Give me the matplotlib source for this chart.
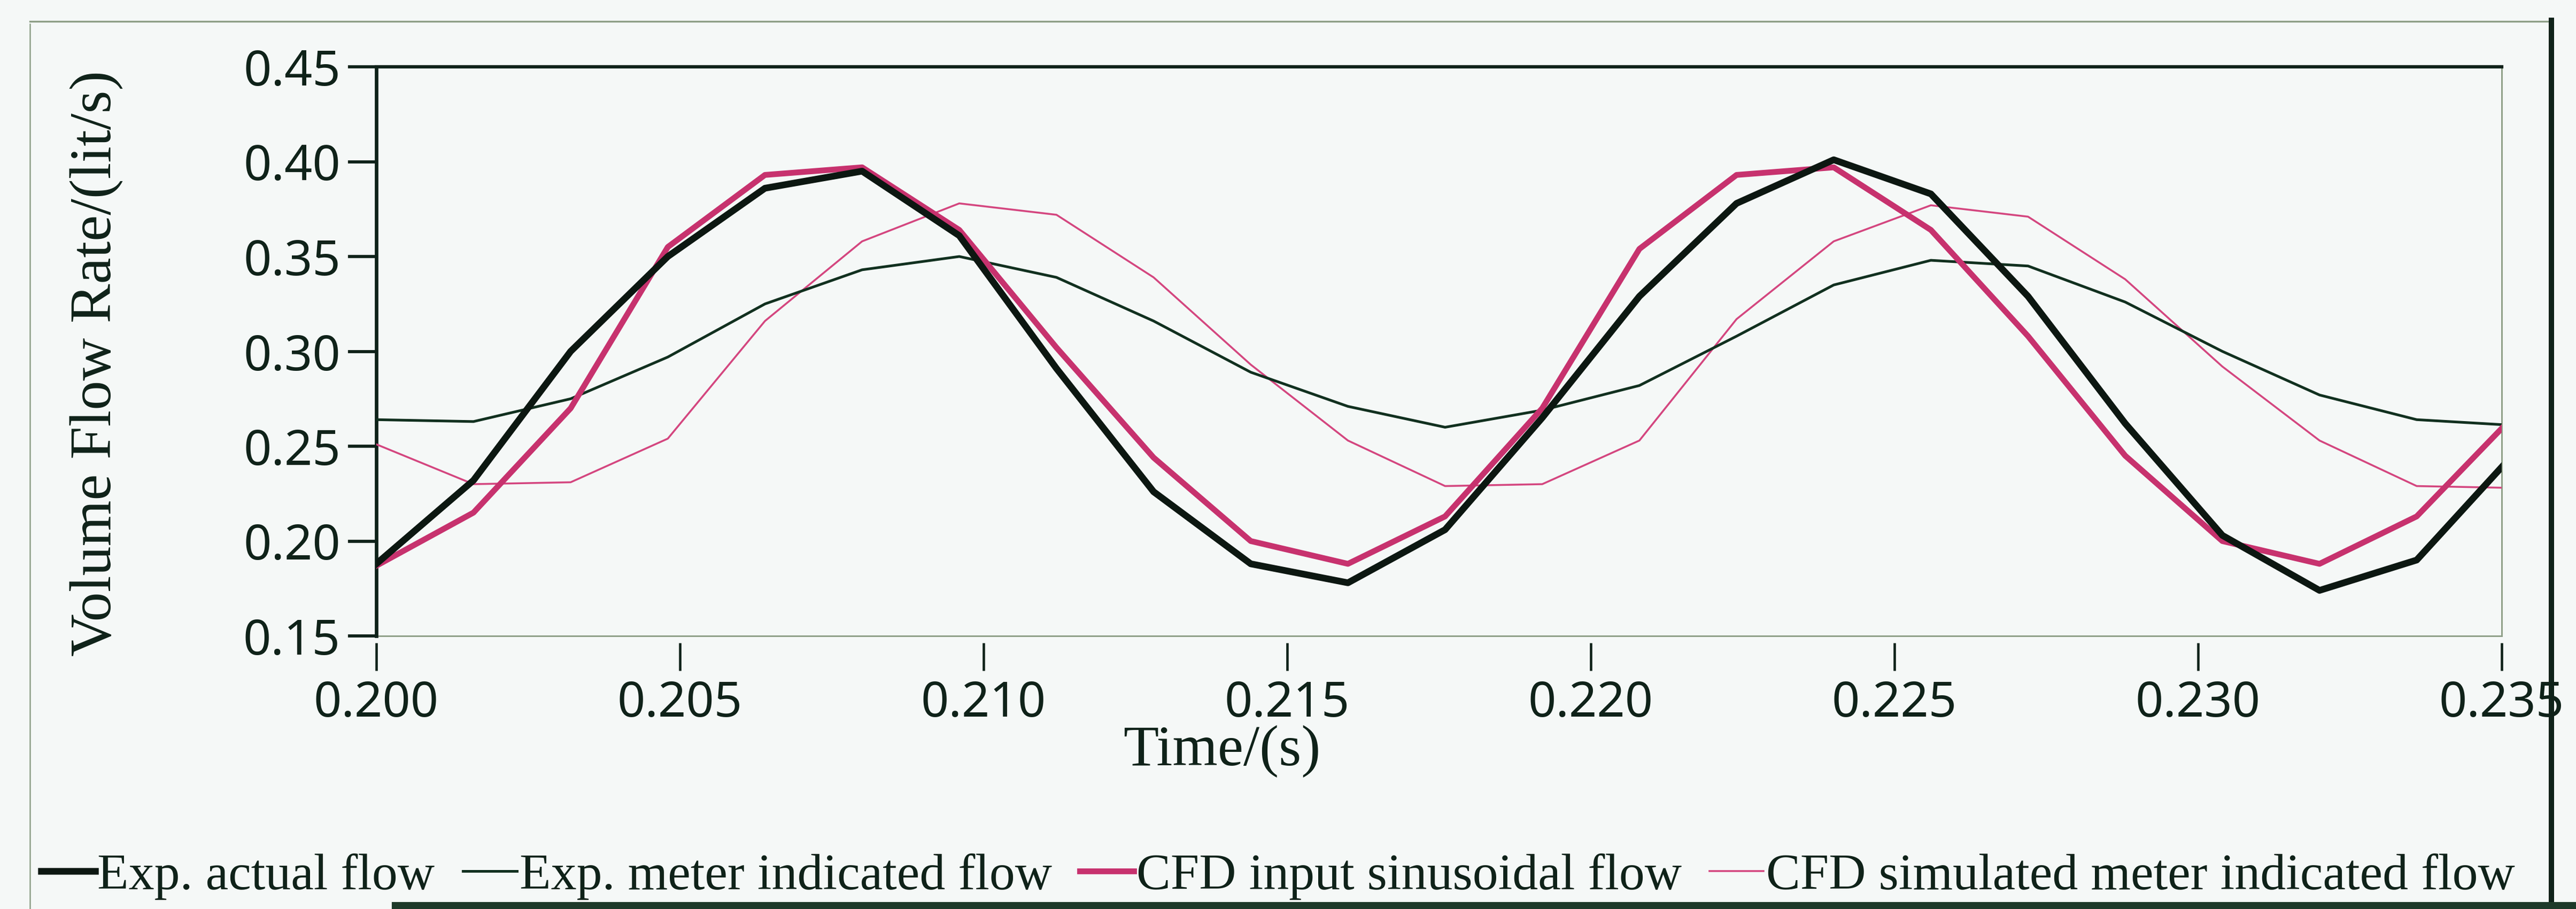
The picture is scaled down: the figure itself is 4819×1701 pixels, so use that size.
import matplotlib
matplotlib.use("Agg")
import matplotlib.pyplot as plt
from matplotlib.lines import Line2D
from matplotlib.patches import Rectangle

# ---------------- data ----------------
times = [0.2000, 0.2016, 0.2032, 0.2048, 0.2064, 0.2080, 0.2096, 0.2112,
         0.2128, 0.2144, 0.2160, 0.2176, 0.2192, 0.2208, 0.2224, 0.2240,
         0.2256, 0.2272, 0.2288, 0.2304, 0.2320, 0.2336, 0.2352]

exp_actual = [0.188, 0.232, 0.300, 0.350, 0.386, 0.395, 0.361, 0.291,
              0.226, 0.188, 0.178, 0.206, 0.265, 0.329, 0.378, 0.401,
              0.383, 0.329, 0.262, 0.203, 0.174, 0.190, 0.246]

exp_meter = [0.264, 0.263, 0.275, 0.297, 0.325, 0.343, 0.350, 0.339,
             0.316, 0.289, 0.271, 0.260, 0.269, 0.282, 0.308, 0.335,
             0.348, 0.345, 0.326, 0.300, 0.277, 0.264, 0.261]

cfd_input = [0.187, 0.215, 0.270, 0.355, 0.393, 0.397, 0.364, 0.302,
             0.244, 0.200, 0.188, 0.213, 0.270, 0.354, 0.393, 0.397,
             0.364, 0.308, 0.245, 0.200, 0.188, 0.213, 0.266]

cfd_meter = [0.251, 0.230, 0.231, 0.254, 0.316, 0.358, 0.378, 0.372,
             0.339, 0.293, 0.253, 0.229, 0.230, 0.253, 0.317, 0.358,
             0.377, 0.371, 0.338, 0.292, 0.253, 0.229, 0.228]

series_labels = ["Exp. actual flow", "Exp. meter indicated flow",
                 "CFD input sinusoidal flow", "CFD simulated meter indicated flow"]

xticks = [0.200, 0.205, 0.210, 0.215, 0.220, 0.225, 0.230, 0.235]
xtick_labels = ["0.200", "0.205", "0.210", "0.215", "0.220", "0.225", "0.230", "0.235"]
yticks = [0.15, 0.20, 0.25, 0.30, 0.35, 0.40, 0.45]
ytick_labels = ["0.15", "0.20", "0.25", "0.30", "0.35", "0.40", "0.45"]

x_label = "Time/(s)"
y_label = "Volume Flow Rate/(lit/s)"

# ---------------- style ----------------
W, H, DPI = 4819, 1701, 300
bg = "#f5f8f7"
dark = "#0f2219"
thick_black = "#0c1711"
thin_black = "#11301f"
pink_thick = "#c7326e"
pink_thin = "#d4467f"
frame_grey = "#8d9e86"
serif = ["Liberation Serif", "DejaVu Serif"]

plt.rcParams["font.family"] = ["Noto Sans", "DejaVu Sans"]

fig = plt.figure(figsize=(W / DPI, H / DPI), dpi=DPI)
fig.patch.set_facecolor(bg)

L, R, T, B = 704, 4680, 125, 1190
ax = fig.add_axes([L / W, 1 - B / H, (R - L) / W, (B - T) / H])
ax.set_facecolor(bg)

ax.plot(times, cfd_meter, color=pink_thin, lw=0.85, zorder=3, label=series_labels[3])
ax.plot(times, exp_meter, color=thin_black, lw=1.2, zorder=4, label=series_labels[1])
ax.plot(times, cfd_input, color=pink_thick, lw=2.6, zorder=5, label=series_labels[2])
ax.plot(times, exp_actual, color=thick_black, lw=3.0, zorder=6, label=series_labels[0])

ax.set_xlim(0.200, 0.235)
ax.set_ylim(0.15, 0.45)
ax.set_xticks(xticks)
ax.set_xticklabels(xtick_labels)
ax.set_yticks(yticks)
ax.set_yticklabels(ytick_labels)

ax.tick_params(axis="x", direction="out", length=12.5, width=1.1, pad=4,
               colors=dark, labelsize=22)
ax.tick_params(axis="y", direction="out", length=12.7, width=1.4, pad=3.4,
               colors=dark, labelsize=22)
for lab in ax.get_xticklabels() + ax.get_yticklabels():
    lab.set_fontweight("medium")

ax.spines["left"].set_color(dark)
ax.spines["left"].set_linewidth(1.6)
ax.spines["top"].set_color(dark)
ax.spines["top"].set_linewidth(1.5)
ax.spines["right"].set_color(frame_grey)
ax.spines["right"].set_linewidth(0.7)
ax.spines["bottom"].set_position(("outward", 3))
ax.spines["bottom"].set_color("none")
ax.plot([0, 1], [0, 0], transform=ax.transAxes, color=frame_grey, lw=0.7,
        clip_on=False, zorder=2)

ax.set_ylabel(y_label, family=serif, fontsize=26.5, color=dark, va="center")
ax.yaxis.set_label_coords((181 - L) / (R - L), (B - 680) / (B - T))
ax.set_xlabel(x_label, family=serif, fontsize=26, color=dark, va="baseline")
ax.xaxis.set_label_coords((2286 - L) / (R - L), (B - 1432) / (B - T))

handles, labels = ax.get_legend_handles_labels()
order = [labels.index(s) for s in series_labels]
leg = fig.legend([handles[i] for i in order], [labels[i] for i in order],
                 loc="center left", bbox_to_anchor=(77 / W, 1 - 1640 / H),
                 ncol=4, frameon=False, prop={"family": serif, "size": 23},
                 handlelength=1.05, handletextpad=0.05, columnspacing=0.55,
                 borderpad=0, borderaxespad=0)
for t in leg.get_texts():
    t.set_color(dark)

# outer frame of the scanned figure
fig.add_artist(Line2D([56 / W, 56 / W], [0, 1 - 45 / H], transform=fig.transFigure,
                      color=frame_grey, lw=0.6, zorder=10))
fig.add_artist(Line2D([56 / W, 4773 / W], [1 - 40 / H, 1 - 40 / H],
                      transform=fig.transFigure, color=frame_grey, lw=0.8, zorder=10))
fig.add_artist(Line2D([4773 / W, 4773 / W], [0, 1 - 38 / H], transform=fig.transFigure,
                      color=dark, lw=2.4, zorder=10))
fig.add_artist(Rectangle((735 / W, 0), (W - 735) / W, 11 / H, transform=fig.transFigure,
                         color="#1e3a2a", zorder=10))

fig.savefig("out.png", dpi=DPI, facecolor=bg)
